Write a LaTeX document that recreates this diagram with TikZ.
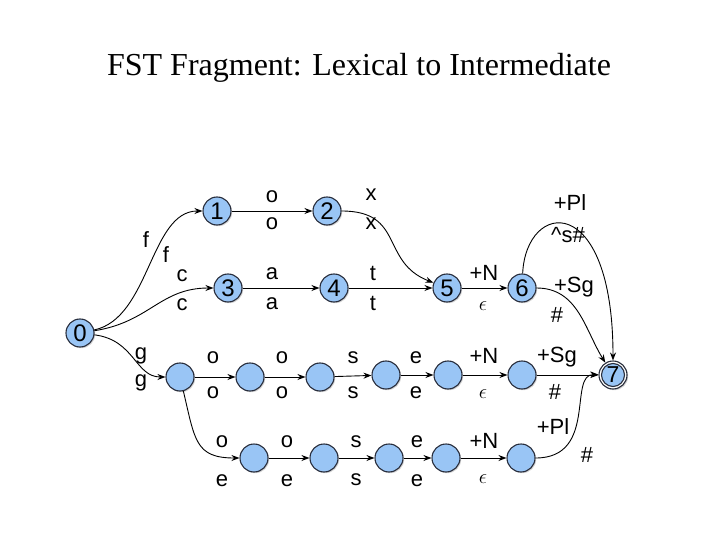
\documentclass[tikz,border=0pt]{standalone}
\usepackage{fontspec}
\setmainfont{Liberation Serif}
\setsansfont{Liberation Sans}
\usetikzlibrary{arrows.meta,shadows}
\definecolor{stfill}{RGB}{153,197,245}
\definecolor{stline}{RGB}{40,45,60}
\tikzset{
  st/.style={circle, draw=stline, line width=1.1pt, fill=stfill, minimum size=28pt, inner sep=0pt,
    font=\sffamily\fontsize{24}{24}\selectfont,
    drop shadow={opacity=0.35, shadow xshift=1.2pt, shadow yshift=-1.2pt}},
  lab/.style={font=\sffamily\fontsize{22}{22}\selectfont, inner sep=0pt},
  ed/.style={draw=black, line width=0.9pt, -{Stealth[length=8pt,width=6pt]}},
}
\begin{document}
\begin{tikzpicture}[x=1pt,y=-1pt]
\useasboundingbox (0,0) rectangle (720,540);
\node[font=\rmfamily\fontsize{32}{32}\selectfont, anchor=base] (title) at (359,76) {FST Fragment: Lexical to Intermediate};
% states
\node[st] (n0) at (80,333) {0};
\node[st] (n1) at (217,211) {1};
\node[st] (n2) at (327,211) {2};
\node[st] (n3) at (228,288) {3};
\node[st] (n4) at (334,288) {4};
\node[st] (n5) at (447,288) {5};
\node[st] (n6) at (522,288) {6};
\node[st, fill=white] (n7) at (613,375) {};
\node[circle, draw=stline, line width=1.1pt, fill=stfill, minimum size=23pt, inner sep=0pt, font=\sffamily\fontsize{23}{23}\selectfont] (n7i) at (613,375) {7};
\node[st] (g1) at (180,377) {};
\node[st] (g2) at (250,377) {};
\node[st] (g3) at (320,377) {};
\node[st] (g4) at (386,375) {};
\node[st] (g5) at (448,375) {};
\node[st] (g6) at (522,375) {};
\node[st] (r1) at (254,458) {};
\node[st] (r2) at (324,458) {};
\node[st] (r3) at (389,458) {};
\node[st] (r4) at (446,458) {};
\node[st] (r5) at (521,458) {};
% edges
\draw[ed] (n0) .. controls (150,318) and (150,211) .. (n1);
\draw[ed] (n1) -- (n2);
\draw[ed] (n2) .. controls (405,211) and (380,262) .. (n5);
\draw[ed] (n0) .. controls (150,322) and (160,288) .. (n3);
\draw[ed] (n3) -- (n4);
\draw[ed] (n4) -- (n5);
\draw[ed] (n5) -- (n6);
\draw[ed] (n6) .. controls (526,200) and (613,190) .. (n7);
\draw[ed] (n6) .. controls (578,288) and (585,330) .. (n7);
\draw[ed] (n0) .. controls (135,340) and (135,377) .. (g1);
\draw[ed] (g1) -- (g2);
\draw[ed] (g2) -- (g3);
\draw[ed] (g3) -- (g4);
\draw[ed] (g4) -- (g5);
\draw[ed] (g5) -- (g6);
\draw[ed] (g6) -- (n7);
\draw[ed] (g1) .. controls (195,440) and (195,458) .. (r1);
\draw[ed] (r1) -- (r2);
\draw[ed] (r2) -- (r3);
\draw[ed] (r3) -- (r4);
\draw[ed] (r4) -- (r5);
\draw[ed] (r5) .. controls (598,458) and (568,374) .. (n7);
% labels
\node[lab] (lf1) at (146,240) {f};
\node[lab] (lf2) at (166,255) {f};
\node[lab] (lc1) at (182,276) {c};
\node[lab] (lc2) at (182,305) {c};
\node[lab] (lo1) at (272,197) {o};
\node[lab] (lo2) at (272,224) {o};
\node[lab] (lx1) at (371,195) {x};
\node[lab] (lx2) at (371,224) {x};
\node[lab] (la1) at (272,274) {a};
\node[lab] (la2) at (272,304) {a};
\node[lab] (lt1) at (373,273) {t};
\node[lab] (lt2) at (373,303) {t};
\node[lab] (lN1) at (484,273) {+N};
\node[lab] (le1) at (483,306) {$\epsilon$};
\node[lab] (lPl1) at (570,203) {+Pl};
\node[lab] (ls1) at (568,235) {\textasciicircum s\#};
\node[lab] (lSg1) at (574,287) {+Sg};
\node[lab] (lh1) at (557,315) {\#};
\node[lab] (lg1) at (141,356) {g};
\node[lab] (lg2) at (141,383) {g};
\node[lab] (r2o1) at (213,358) {o};
\node[lab] (r2o2) at (213,393) {o};
\node[lab] (r2p1) at (282,358) {o};
\node[lab] (r2p2) at (282,393) {o};
\node[lab] (r2s1) at (353,358) {s};
\node[lab] (r2s2) at (353,393) {s};
\node[lab] (r2e1) at (416,358) {e};
\node[lab] (r2e2) at (416,393) {e};
\node[lab] (r2N1) at (484,356) {+N};
\node[lab] (r2N2) at (483,394) {$\epsilon$};
\node[lab] (r2S1) at (557,357) {+Sg};
\node[lab] (r2S2) at (555,392) {\#};
\node[lab] (r3o1) at (222,442) {o};
\node[lab] (r3o2) at (222,481) {e};
\node[lab] (r3p1) at (287,442) {o};
\node[lab] (r3p2) at (287,481) {e};
\node[lab] (r3s1) at (356,442) {s};
\node[lab] (r3s2) at (356,480) {s};
\node[lab] (r3e1) at (417,442) {e};
\node[lab] (r3e2) at (417,481) {e};
\node[lab] (r3N1) at (484,441) {+N};
\node[lab] (r3N2) at (483,479) {$\epsilon$};
\node[lab] (r3P1) at (553,427) {+Pl};
\node[lab] (r3P2) at (587,455) {\#};
\end{tikzpicture}
\end{document}
